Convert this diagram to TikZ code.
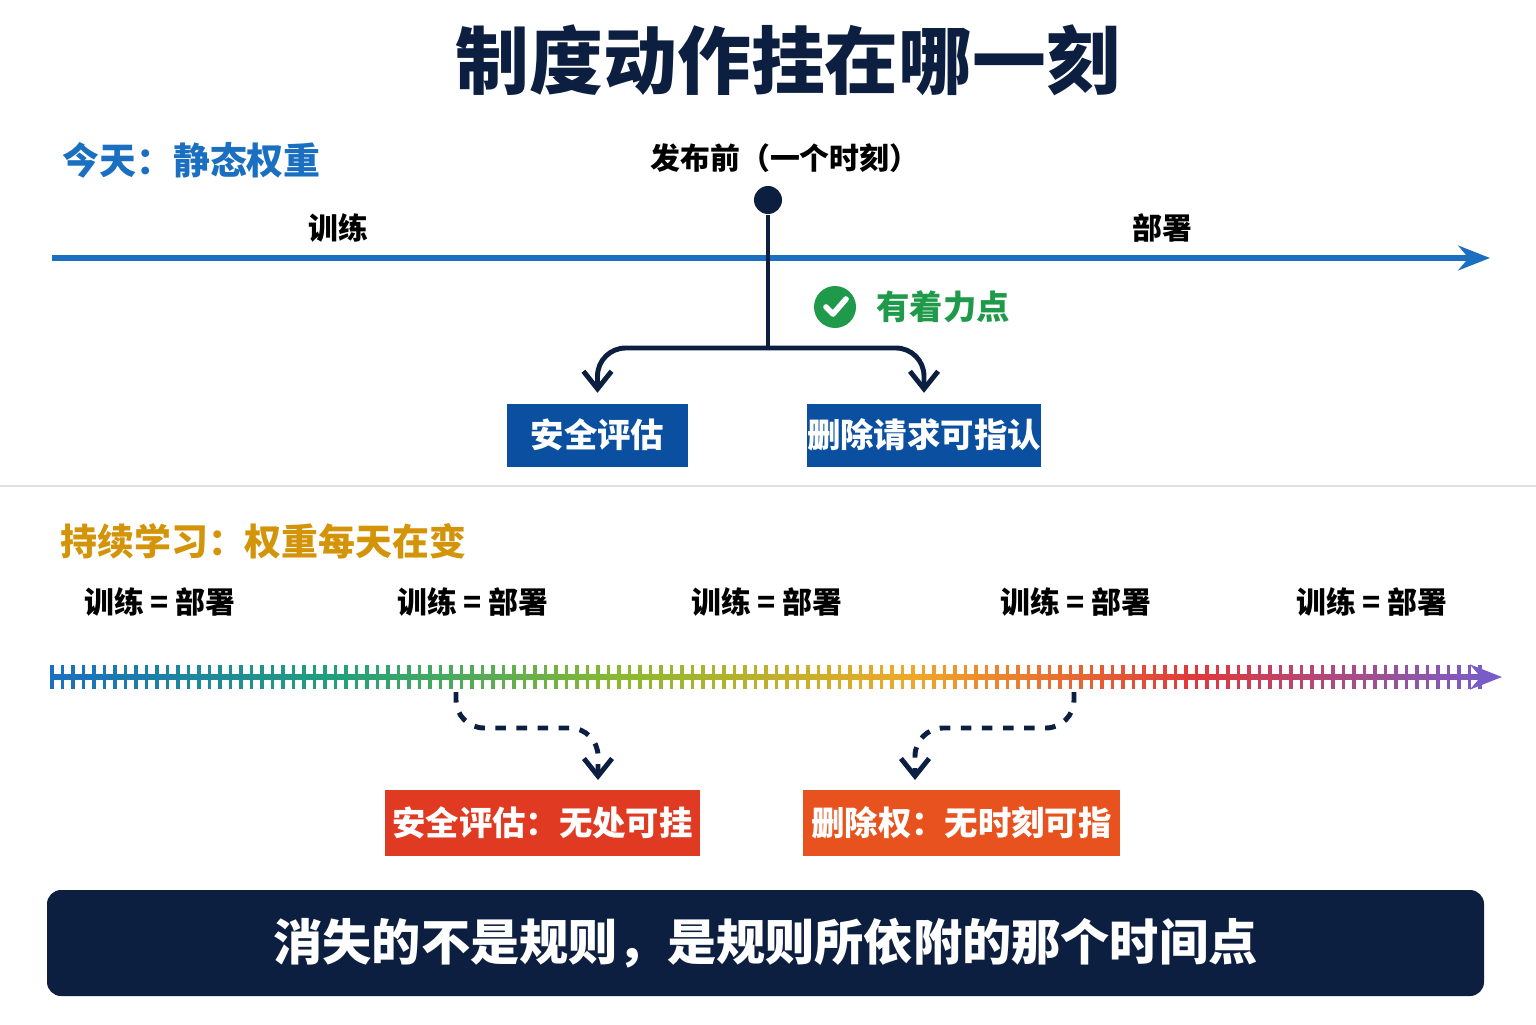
\documentclass[tikz,border=0pt]{standalone}
\usepackage{fontspec}
\setmainfont{Noto Sans CJK SC}
\usetikzlibrary{arrows.meta}
\definecolor{navy}{HTML}{0D1F40}
\definecolor{topblue}{HTML}{1A6FC0}
\definecolor{boxblue}{HTML}{0B4FA0}
\definecolor{gold}{HTML}{D4940A}
\definecolor{okgreen}{HTML}{1E9A4A}
\definecolor{warnred}{HTML}{E03A22}
\definecolor{warnorange}{HTML}{E8521E}
\definecolor{c0}{HTML}{1A6FC0}
\definecolor{c1}{HTML}{21A07A}
\definecolor{c2}{HTML}{8CB830}
\definecolor{c3}{HTML}{F0A828}
\definecolor{c4}{HTML}{E0383A}
\definecolor{c5}{HTML}{7A5CC8}
\definecolor{c6}{HTML}{7A5CC8}
\tikzset{
  lbl/.style={font=\bfseries\fontsize{8.5}{10}\selectfont,text=black},
  bigbox/.style={font=\bfseries\fontsize{9.5}{11}\selectfont,text=white,minimum height=0.63cm,inner sep=0pt},
  tip/.style={-{Straight Barb[length=5pt,width=8pt,line width=1.4pt]}},
}
\begin{document}
\begin{tikzpicture}
  \useasboundingbox[fill=white] (0,0) rectangle (15.36,10.24);
  % title
  \node[font=\bfseries\fontsize{21}{24}\selectfont,text=navy] (title) at (7.88,9.64) {制度动作挂在哪一刻};
  % static weights
  \node[anchor=west,font=\bfseries\fontsize{10.5}{12}\selectfont,text=topblue] (today) at (0.5,8.64) {今天：静态权重};
  \node[lbl] (release) at (7.85,8.66) {发布前（一个时刻）};
  \node[lbl] (train) at (3.38,7.96) {训练};
  \node[lbl] (deploy) at (11.62,7.96) {部署};
  \coordinate (lineL) at (0.52,7.66);
  \coordinate (lineR) at (14.9,7.66);
  \draw[topblue,line width=1.6pt,-{Stealth[length=9pt,width=7pt]}] (lineL) -- (lineR);
  \node[circle,fill=navy,inner sep=0pt,minimum size=0.28cm] (dot) at (7.68,8.24) {};
  \coordinate (fork) at (7.68,6.76);
  \node[bigbox,fill=boxblue,minimum width=1.81cm] (safety) at (5.975,5.89) {安全评估};
  \node[bigbox,fill=boxblue,minimum width=2.24cm] (delete) at (9.24,5.89) {删除请求可指认};
  \draw[navy,line width=1.4pt,rounded corners=8pt] (dot) -- (7.68,6.76);
  \draw[navy,line width=1.4pt,rounded corners=8pt,tip] (fork) -| ([yshift=0.1cm]safety.north);
  \draw[navy,line width=1.4pt,rounded corners=8pt,tip] (fork) -| ([yshift=0.1cm]delete.north);
  \node[circle,fill=okgreen,inner sep=0pt,minimum size=0.42cm] (check) at (8.35,7.17) {};
  \draw[white,line width=1.6pt,line cap=round,line join=round] (8.26,7.17) -- (8.33,7.1) -- (8.46,7.25);
  \node[anchor=west,font=\bfseries\fontsize{9.5}{11}\selectfont,text=okgreen] (anchorpt) at (8.64,7.17) {有着力点};
  % separator
  \draw[black!12,line width=0.6pt] (0,5.38) -- (15.36,5.38);
  % continual learning
  \node[anchor=west,font=\bfseries\fontsize{10.5}{12}\selectfont,text=gold] (cont) at (0.48,4.83) {持续学习：权重每天在变};
  \foreach \x [count=\k] in {1.6,4.73,7.67,10.76,13.72}
    \node[lbl] (eq\k) at (\x,4.22) {训练 = 部署};
  \foreach \n in {0,...,136}{
    \pgfmathsetmacro\t{\n/136*5}
    \pgfmathtruncatemacro\seg{min(int(\t),4)}
    \pgfmathtruncatemacro\nxt{\seg+1}
    \pgfmathtruncatemacro\p{round(100*(\t-\seg))}
    \colorlet{tk}{c\nxt!\p!c\seg}
    \pgfmathsetmacro\xx{0.52+\n*0.105}
    \draw[tk,line width=1pt] (\xx,3.59) -- (\xx,3.35);
    \draw[tk,line width=1.6pt] (\xx,3.47) -- ({\xx+0.106},3.47);
  }
  \coordinate (barEnd) at (15.02,3.47);
  \draw[c5,line width=1.6pt,-{Stealth[length=9pt,width=7pt]}] (14.8,3.47) -- (barEnd);
  \coordinate (tapA) at (4.56,3.32);
  \coordinate (tapB) at (10.74,3.32);
  \node[bigbox,fill=warnred,minimum width=3.15cm,minimum height=0.66cm] (nohook) at (5.425,2.01) {安全评估：无处可挂};
  \node[bigbox,fill=warnorange,minimum width=3.17cm,minimum height=0.66cm] (notime) at (9.615,2.01) {删除权：无时刻可指};
  \draw[navy,line width=1.4pt,dashed,rounded corners=8pt,tip] (tapA) |- (5.98,2.96) -- ([yshift=0.1cm]5.98,2.34);
  \draw[navy,line width=1.4pt,dashed,rounded corners=8pt,tip] (tapB) |- (9.15,2.96) -- ([yshift=0.1cm]9.15,2.34);
  % banner
  \node[fill=navy,rounded corners=4pt,minimum width=14.37cm,minimum height=1.06cm,font=\bfseries\fontsize{14}{16}\selectfont,text=white] (banner) at (7.655,0.81) {消失的不是规则，是规则所依附的那个时间点};
\end{tikzpicture}
\end{document}
